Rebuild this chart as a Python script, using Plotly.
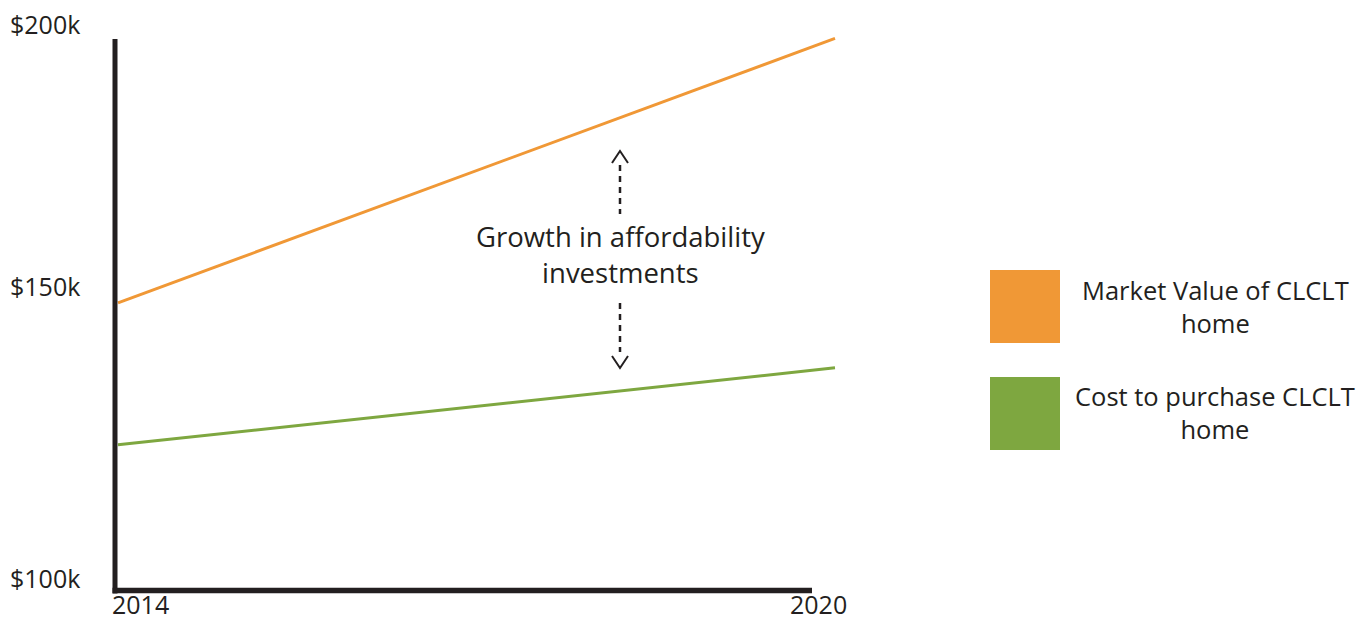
import plotly.graph_objects as go

# ---- data ----
years = [2014, 2020]
market_value = [152200, 200300]
purchase_cost = [126400, 140400]
series_names = ["Market Value of CLCLT<br>home", "Cost to purchase CLCLT<br>home"]
series_colors = ["#F09836", "#7EA740"]
ytick_values = [200000, 150000, 100000]
ytick_labels = ["$200k", "$150k", "$100k"]
xtick_labels = ["2014", "2020"]
callout_text = "Growth in affordability<br>investments"

# ---- layout geometry (pixels) ----
W, H = 1369, 622
L, R, T, B = 100, 500, 20, 20
PW, PH = W - L - R, H - T - B


def px2x(p):
    return 2014 + (p - 118) / (835 - 118) * 6


def py2y(p):
    return 100000 + (590 - p) / 550 * 100000


def pxp(p):
    return (p - L) / PW


def pyp(p):
    return (H - B - p) / PH


FONT = "Open Sans"
TXT = "#231F20"

fig = go.Figure()
fig.add_trace(go.Scatter(x=years, y=market_value, mode="lines",
                         line=dict(color=series_colors[0], width=3),
                         name=series_names[0], showlegend=False))
fig.add_trace(go.Scatter(x=years, y=purchase_cost, mode="lines",
                         line=dict(color=series_colors[1], width=3),
                         name=series_names[1], showlegend=False))

shapes = []
# axis lines
shapes.append(dict(type="line", xref="paper", yref="paper",
                   x0=pxp(115), x1=pxp(115), y0=pyp(39), y1=pyp(593.5),
                   line=dict(color=TXT, width=5)))
shapes.append(dict(type="line", xref="paper", yref="paper",
                   x0=pxp(112.5), x1=pxp(812), y0=pyp(590.5), y1=pyp(590.5),
                   line=dict(color=TXT, width=5.5)))
# dashed arrow stems
ax = 620
shapes.append(dict(type="line", xref="paper", yref="paper",
                   x0=pxp(ax), x1=pxp(ax), y0=pyp(165), y1=pyp(214),
                   line=dict(color=TXT, width=2.5, dash="6px,5px")))
shapes.append(dict(type="line", xref="paper", yref="paper",
                   x0=pxp(ax), x1=pxp(ax), y0=pyp(303), y1=pyp(352),
                   line=dict(color=TXT, width=2.5, dash="6px,5px")))


def chevron(cx, tip, base):
    return (f"M {pxp(cx-8)} {pyp(base)} L {pxp(cx)} {pyp(tip)} "
            f"L {pxp(cx+8)} {pyp(base)}")


shapes.append(dict(type="path", xref="paper", yref="paper",
                   path=chevron(ax, 151, 163), line=dict(color=TXT, width=2)))
shapes.append(dict(type="path", xref="paper", yref="paper",
                   path=chevron(ax, 368, 356), line=dict(color=TXT, width=2)))
# legend squares
for i, (top, bot) in enumerate([(270, 343), (377, 450)]):
    shapes.append(dict(type="rect", xref="paper", yref="paper",
                       x0=pxp(990), x1=pxp(1060), y0=pyp(bot), y1=pyp(top),
                       fillcolor=series_colors[i], line=dict(width=0)))

annotations = []
# y tick labels
for val, lab, cy in zip(ytick_values, ytick_labels, [24, 286, 578]):
    annotations.append(dict(text=lab, xref="paper", yref="paper",
                            x=pxp(8), y=pyp(cy), xanchor="left", yanchor="middle",
                            showarrow=False, font=dict(family=FONT, size=25, color=TXT)))
# x tick labels
for lab, cx in zip(xtick_labels, [140.5, 818.5]):
    annotations.append(dict(text=lab, xref="paper", yref="paper",
                            x=pxp(cx), y=pyp(622), xanchor="center", yanchor="bottom",
                            borderpad=0,
                            showarrow=False, font=dict(family=FONT, size=25, color=TXT)))
# callout
annotations.append(dict(text=callout_text, xref="paper", yref="paper",
                        x=pxp(620), y=pyp(254), xanchor="center", yanchor="middle",
                        showarrow=False, align="center",
                        font=dict(family=FONT, size=27.5, color=TXT)))
# legend text
for name, cy in zip(series_names, [306, 412]):
    annotations.append(dict(text=name, xref="paper", yref="paper",
                            x=pxp(1215), y=pyp(cy), xanchor="center", yanchor="middle",
                            showarrow=False, align="center",
                            font=dict(family=FONT, size=25.5, color=TXT)))

fig.update_layout(
    width=W, height=H,
    margin=dict(l=L, r=R, t=T, b=B),
    paper_bgcolor="white", plot_bgcolor="white",
    xaxis=dict(range=[px2x(L), px2x(L + PW)], visible=False, fixedrange=True),
    yaxis=dict(range=[py2y(H - B), py2y(T)], visible=False, fixedrange=True),
    shapes=shapes, annotations=annotations, showlegend=False,
)
fig.write_html("out.html")
